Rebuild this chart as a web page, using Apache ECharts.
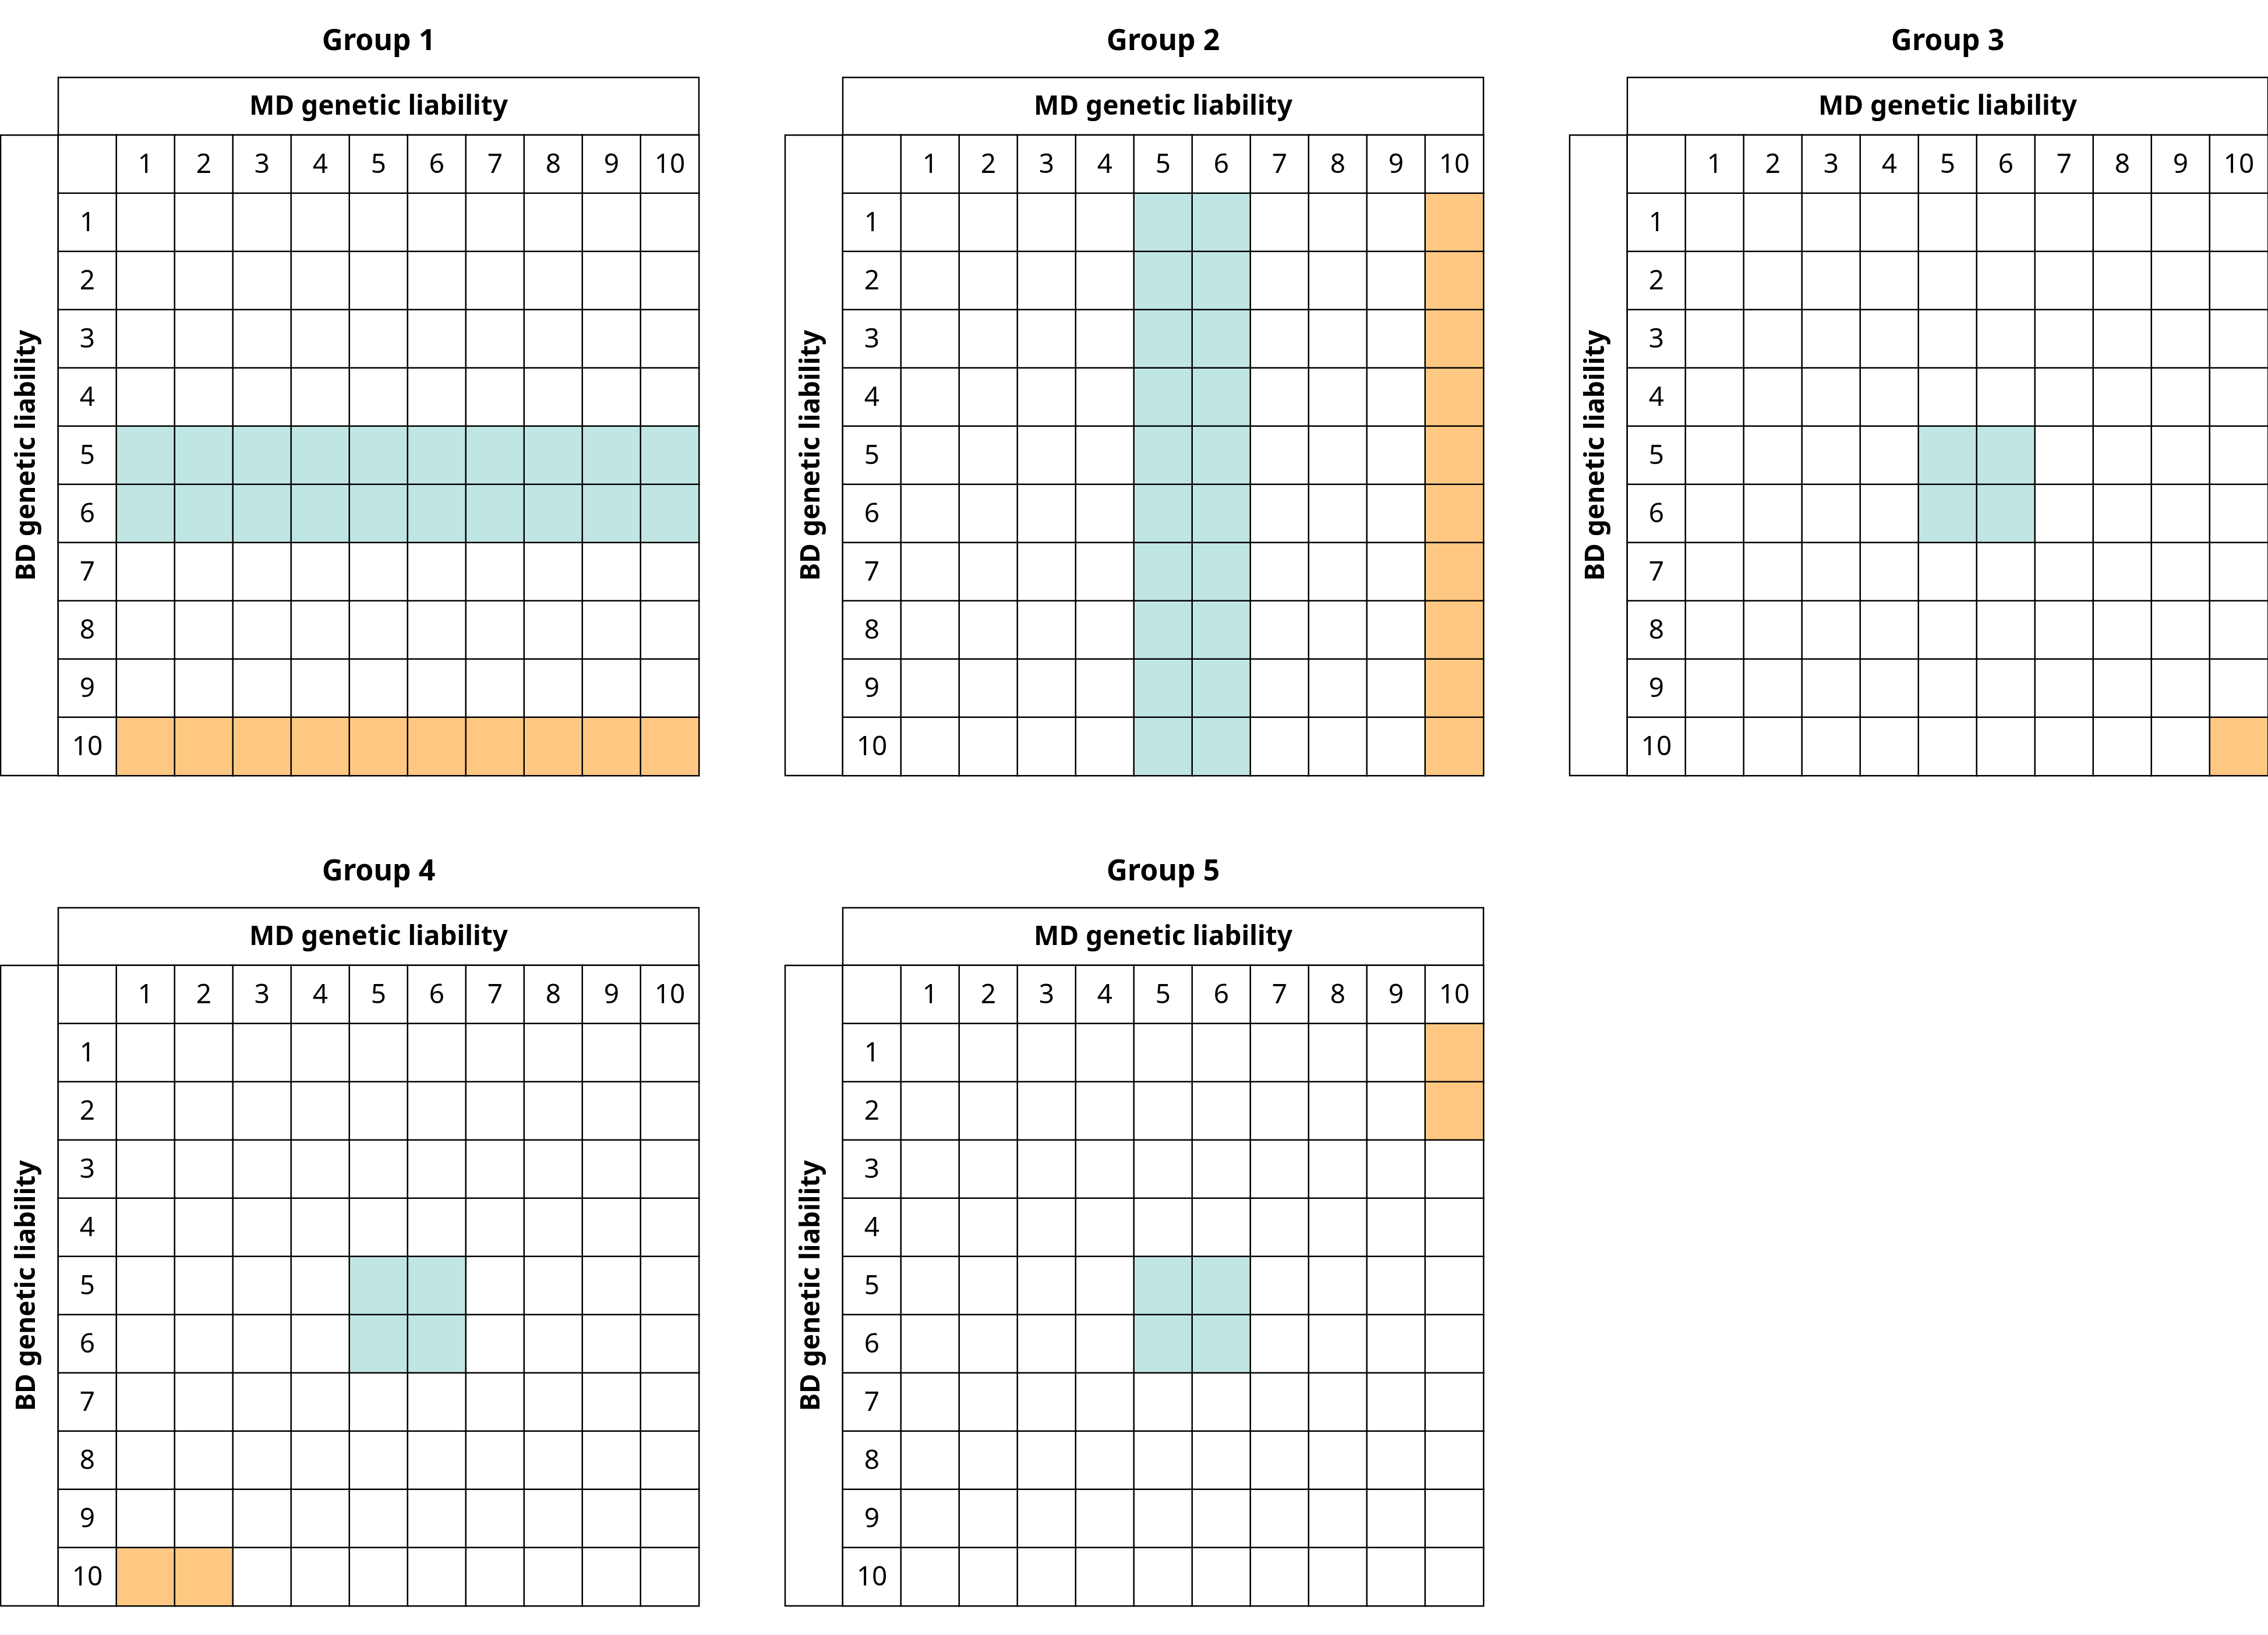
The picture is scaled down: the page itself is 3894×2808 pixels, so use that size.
<!DOCTYPE html>
<html>
<head>
<meta charset="utf-8">
<script src="https://cdn.jsdelivr.net/npm/echarts@6/dist/echarts.min.js"></script>
<style>
html,body{margin:0;padding:0;background:#fff;}
#chart{width:3894px;height:2808px;}
</style>
</head>
<body>
<div id="chart"></div>
<script>
// ---- data ----
const groupTitles = ['Group 1', 'Group 2', 'Group 3', 'Group 4', 'Group 5'];
const colLabels = ['1', '2', '3', '4', '5', '6', '7', '8', '9', '10'];
const rowLabels = ['1', '2', '3', '4', '5', '6', '7', '8', '9', '10'];
const xAxisTitle = 'MD genetic liability';
const yAxisTitle = 'BD genetic liability';
// 0 = white, 1 = teal, 2 = orange ; rows = BD decile 1..10, cols = MD decile 1..10
const group1 = [
  [0,0,0,0,0,0,0,0,0,0],
  [0,0,0,0,0,0,0,0,0,0],
  [0,0,0,0,0,0,0,0,0,0],
  [0,0,0,0,0,0,0,0,0,0],
  [1,1,1,1,1,1,1,1,1,1],
  [1,1,1,1,1,1,1,1,1,1],
  [0,0,0,0,0,0,0,0,0,0],
  [0,0,0,0,0,0,0,0,0,0],
  [0,0,0,0,0,0,0,0,0,0],
  [2,2,2,2,2,2,2,2,2,2]
];
const group2 = [
  [0,0,0,0,1,1,0,0,0,2],
  [0,0,0,0,1,1,0,0,0,2],
  [0,0,0,0,1,1,0,0,0,2],
  [0,0,0,0,1,1,0,0,0,2],
  [0,0,0,0,1,1,0,0,0,2],
  [0,0,0,0,1,1,0,0,0,2],
  [0,0,0,0,1,1,0,0,0,2],
  [0,0,0,0,1,1,0,0,0,2],
  [0,0,0,0,1,1,0,0,0,2],
  [0,0,0,0,1,1,0,0,0,2]
];
const group3 = [
  [0,0,0,0,0,0,0,0,0,0],
  [0,0,0,0,0,0,0,0,0,0],
  [0,0,0,0,0,0,0,0,0,0],
  [0,0,0,0,0,0,0,0,0,0],
  [0,0,0,0,1,1,0,0,0,0],
  [0,0,0,0,1,1,0,0,0,0],
  [0,0,0,0,0,0,0,0,0,0],
  [0,0,0,0,0,0,0,0,0,0],
  [0,0,0,0,0,0,0,0,0,0],
  [0,0,0,0,0,0,0,0,0,2]
];
const group4 = [
  [0,0,0,0,0,0,0,0,0,0],
  [0,0,0,0,0,0,0,0,0,0],
  [0,0,0,0,0,0,0,0,0,0],
  [0,0,0,0,0,0,0,0,0,0],
  [0,0,0,0,1,1,0,0,0,0],
  [0,0,0,0,1,1,0,0,0,0],
  [0,0,0,0,0,0,0,0,0,0],
  [0,0,0,0,0,0,0,0,0,0],
  [0,0,0,0,0,0,0,0,0,0],
  [2,2,0,0,0,0,0,0,0,0]
];
const group5 = [
  [0,0,0,0,0,0,0,0,0,2],
  [0,0,0,0,0,0,0,0,0,2],
  [0,0,0,0,0,0,0,0,0,0],
  [0,0,0,0,0,0,0,0,0,0],
  [0,0,0,0,1,1,0,0,0,0],
  [0,0,0,0,1,1,0,0,0,0],
  [0,0,0,0,0,0,0,0,0,0],
  [0,0,0,0,0,0,0,0,0,0],
  [0,0,0,0,0,0,0,0,0,0],
  [0,0,0,0,0,0,0,0,0,0]
];
const groups = [group1, group2, group3, group4, group5];

// ---- layout / style ----
const FONT = "'Noto Sans', 'DejaVu Sans', sans-serif";
const COLORS = {0: '#FFFFFF', 1: '#C0E6E4', 2: '#FEC882'};
const LINE = 2.5;
const origins = [[0, 0], [1347, 0], [2694, 0], [0, 1426], [1347, 1426]];
const L = {
  titleCx: 650, titleCy: 72,
  mdTop: 133, mdBottom: 232, mdLeft: 100, mdRight: 1200,
  bdLeft: 1, bdRight: 100, bdTop: 232, bdBottom: 1332, bdTextX: 47,
  gridLeft: 100, gridTop: 232, gridSize: 1100
};

const chart = echarts.init(document.getElementById('chart'), null, {renderer: 'canvas'});

const grid = [], xAxis = [], yAxis = [], series = [], graphic = [];
const xCats = [''].concat(colLabels);
const yCats = [''].concat(rowLabels);

groups.forEach((cells, g) => {
  const [ox, oy] = origins[g];
  grid.push({left: ox + L.gridLeft, top: oy + L.gridTop, width: L.gridSize, height: L.gridSize, containLabel: false});
  xAxis.push({type: 'category', gridIndex: g, data: xCats, show: false, boundaryGap: true});
  yAxis.push({type: 'category', gridIndex: g, data: yCats, show: false, inverse: true, boundaryGap: true});
  const data = [];
  for (let yi = 0; yi <= rowLabels.length; yi++) {
    for (let xi = 0; xi <= colLabels.length; xi++) {
      let name = '', v = 0;
      if (yi === 0 && xi > 0) name = colLabels[xi - 1];
      else if (xi === 0 && yi > 0) name = rowLabels[yi - 1];
      else if (xi > 0 && yi > 0) v = cells[yi - 1][xi - 1];
      data.push({name: name, value: [xi, yi, v], itemStyle: {color: COLORS[v]}});
    }
  }
  series.push({
    type: 'heatmap', xAxisIndex: g, yAxisIndex: g, data: data,
    itemStyle: {borderColor: '#000', borderWidth: LINE},
    label: {show: true, formatter: p => p.name || '', color: '#000', fontSize: 46, fontFamily: FONT, offset: [0, 2]},
    emphasis: {disabled: true}, silent: true
  });
  // title
  graphic.push({type: 'text', x: ox + L.titleCx, y: oy + L.titleCy, silent: true,
    style: {text: groupTitles[g], font: 'bold 50px ' + FONT, fill: '#000', align: 'center', verticalAlign: 'middle'}});
  // MD header box
  graphic.push({type: 'rect', silent: true,
    shape: {x: ox + L.mdLeft, y: oy + L.mdTop, width: L.mdRight - L.mdLeft, height: L.mdBottom - L.mdTop},
    style: {fill: '#fff', stroke: '#000', lineWidth: LINE}});
  graphic.push({type: 'text', silent: true, x: ox + (L.mdLeft + L.mdRight) / 2, y: oy + (L.mdTop + L.mdBottom) / 2 + 1,
    style: {text: xAxisTitle, font: 'bold 46px ' + FONT, fill: '#000', align: 'center', verticalAlign: 'middle'}});
  // BD side box
  graphic.push({type: 'rect', silent: true,
    shape: {x: ox + L.bdLeft, y: oy + L.bdTop, width: L.bdRight - L.bdLeft, height: L.bdBottom - L.bdTop},
    style: {fill: '#fff', stroke: '#000', lineWidth: LINE}});
  graphic.push({type: 'text', silent: true, x: ox + L.bdTextX, y: oy + (L.bdTop + L.bdBottom) / 2,
    rotation: Math.PI / 2,
    style: {text: yAxisTitle, font: 'bold 46px ' + FONT, fill: '#000', align: 'center', verticalAlign: 'middle'}});
});

chart.setOption({
  animation: false,
  backgroundColor: '#fff',
  grid: grid, xAxis: xAxis, yAxis: yAxis, series: series, graphic: graphic
});
</script>
</body>
</html>
